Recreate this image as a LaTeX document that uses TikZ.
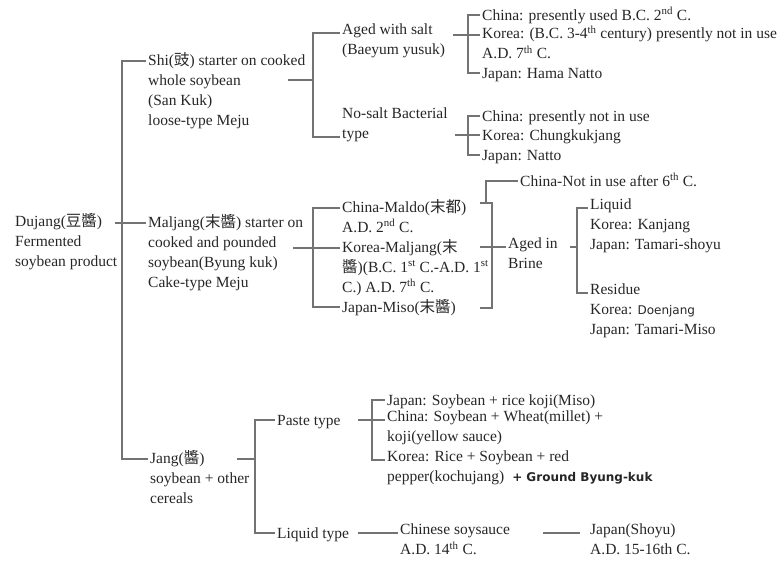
\documentclass[tikz,border=0pt]{standalone}
\usepackage{fontspec}
\setmainfont{Liberation Serif}
\setsansfont{DejaVu Sans}
\newfontfamily\cjk{Noto Sans CJK TC}
\usetikzlibrary{positioning}

\tikzset{
  txt/.style={anchor=north west, align=left, inner xsep=2pt, inner ysep=0pt,
    font=\fontsize{15.5}{20}\selectfont, text=black!85, execute at begin node=\strut},
  link/.style={draw=black!55, line width=1.1pt}
}

\begin{document}
\begin{tikzpicture}[x=1pt, y=-1pt]
        \useasboundingbox (0,0) rectangle (781,564);

        % root and first level
        \node (root) at (13,213) [txt] {Dujang({\cjk 豆醬})\\Fermented\\soybean product};
        \node (shi) at (146,52) [txt] {Shi({\cjk 豉}) starter on cooked\\whole soybean\\(San Kuk)\\loose-type Meju};
        \node (maljang) at (146,214) [txt] {Maljang({\cjk 末醬}) starter on\\cooked and pounded\\soybean(Byung kuk)\\Cake-type Meju};
        \node (jang) at (148,450) [txt] {Jang({\cjk 醬})\\soybean + other\\cereals};

        % shi branch
        \node (salt) at (340,24) [txt] {Aged with salt\\(Baeyum yusuk)};
        \node (nosalt) at (340,108) [txt] {No-salt Bacterial\\type};
        \node (china1) at (480,6) [txt] {China: presently used B.C. 2\textsuperscript{nd} C.};
        \node (korea1) at (480,26) [txt] {Korea: (B.C. 3-4\textsuperscript{th} century) presently not in use\\A.D. 7\textsuperscript{th} C.};
        \node (japan1) at (480,64) [txt] {Japan: Hama Natto};
        \node (china2) at (480,107) [txt] {China: presently not in use};
        \node (korea2) at (480,126) [txt] {Korea: Chungkukjang};
        \node (japan2) at (480,146) [txt] {Japan: Natto};

        % maljang branch
        \node (maldo) at (340,199) [txt] {China-Maldo({\cjk 末都})\\A.D. 2\textsuperscript{nd} C.};
        \node (korea3) at (340,239) [txt] {Korea-Maljang({\cjk 末}\\{\cjk 醬})(B.C. 1\textsuperscript{st} C.-A.D. 1\textsuperscript{st}\\C.) A.D. 7\textsuperscript{th} C.};
        \node (miso) at (340,298) [txt] {Japan-Miso({\cjk 末醬})};
        \node (notuse) at (518,172) [txt] {China-Not in use after 6\textsuperscript{th} C.};
        \node (brine) at (506,238) [txt] {Aged in\\Brine};
        \node (liquid) at (588,199) [txt] {Liquid\\Korea: Kanjang\\Japan: Tamari-shoyu};
        \node (residue) at (588,284) [txt] {Residue\\Korea: {\sffamily\fontsize{12}{20}\selectfont Doenjang}\\Japan: Tamari-Miso};

        % jang branch
        \node (paste) at (275,411) [txt] {Paste type};
        \node (liqtype) at (275,524) [txt] {Liquid type};
        \node (japan4) at (385,391) [txt] {Japan: Soybean + rice koji(Miso)};
        \node (china4) at (385,411) [txt] {China: Soybean + Wheat(millet) +\\koji(yellow sauce)};
        \node (korea4) at (385,451) [txt] {Korea: Rice + Soybean + red\\pepper(kochujang)\hspace{8pt}{\sffamily\bfseries\fontsize{12}{20}\selectfont + Ground Byung-kuk}};
        \node (soysauce) at (398,524) [txt] {Chinese soysauce\\A.D. 14\textsuperscript{th} C.};
        \node (shoyu) at (588,524) [txt] {Japan(Shoyu)\\A.D. 15-16th C.};

        % bracket points
        \coordinate (rbar) at (122,300);
        \coordinate (rootout) at (115,223);
        \coordinate (sbar) at (313,80);
        \coordinate (shiout) at (288,80);
        \coordinate (abar) at (468,35);
        \coordinate (saltout) at (453,35);
        \coordinate (nbar) at (468,135);
        \coordinate (nsout) at (455,135);
        \coordinate (mbar) at (313,248);
        \coordinate (malout) at (293,248);
        \coordinate (mtop) at (480,203);
        \coordinate (mbot) at (480,308);
        \coordinate (bbar) at (492,247);
        \coordinate (brinein) at (480,247);
        \coordinate (ntop) at (486,203);
        \coordinate (lbar) at (577,247);
        \coordinate (brineout) at (570,247);
        \coordinate (jbar) at (255,459);
        \coordinate (jangout) at (237,459);
        \coordinate (pbar) at (372,420);
        \coordinate (pasteout) at (358,420);
        \coordinate (liqout) at (358,533);
        \coordinate (soyout) at (543,533);

        % connections
        \draw[link] ([yshift=-9pt]shi.north west) -| (rbar) |- ([yshift=-9pt]jang.north west);
        \draw[link] (rootout) -- ([yshift=-9pt]maljang.north west);
        \draw[link] ([yshift=-9pt]salt.north west) -| (sbar) |- ([yshift=-29pt]nosalt.north west);
        \draw[link] (shiout) -- (sbar);
        \draw[link] ([yshift=-9pt]china1.north west) -| (abar) |- ([yshift=-9pt]japan1.north west);
        \draw[link] (saltout) -- ([yshift=-9pt]korea1.north west);
        \draw[link] ([yshift=-9pt]china2.north west) -| (nbar) |- ([yshift=-9pt]japan2.north west);
        \draw[link] (nsout) -- ([yshift=-9pt]korea2.north west);
        \draw[link] ([yshift=-9pt]maldo.north west) -| (mbar) |- ([yshift=-9pt]miso.north west);
        \draw[link] (malout) -- ([yshift=-9pt]korea3.north west);
        \draw[link] (mtop) -| (bbar) |- (mbot);
        \draw[link] (brinein) -- ([yshift=-9pt]brine.north west);
        \draw[link] (ntop) |- ([yshift=-9pt]notuse.north west);
        \draw[link] ([yshift=-9pt]liquid.north west) -| (lbar) |- ([yshift=-9pt]residue.north west);
        \draw[link] (brineout) -- (lbar);
        \draw[link] ([yshift=-9pt]paste.north west) -| (jbar) |- ([yshift=-9pt]liqtype.north west);
        \draw[link] (jangout) -- (jbar);
        \draw[link] ([yshift=-9pt]japan4.north west) -| (pbar) |- ([yshift=-9pt]korea4.north west);
        \draw[link] (pasteout) -- ([yshift=-9pt]china4.north west);
        \draw[link] (liqout) -- ([yshift=-9pt]soysauce.north west);
        \draw[link] (soyout) -- ([xshift=-8pt,yshift=-9pt]shoyu.north west);
    \end{tikzpicture}
\end{document}
